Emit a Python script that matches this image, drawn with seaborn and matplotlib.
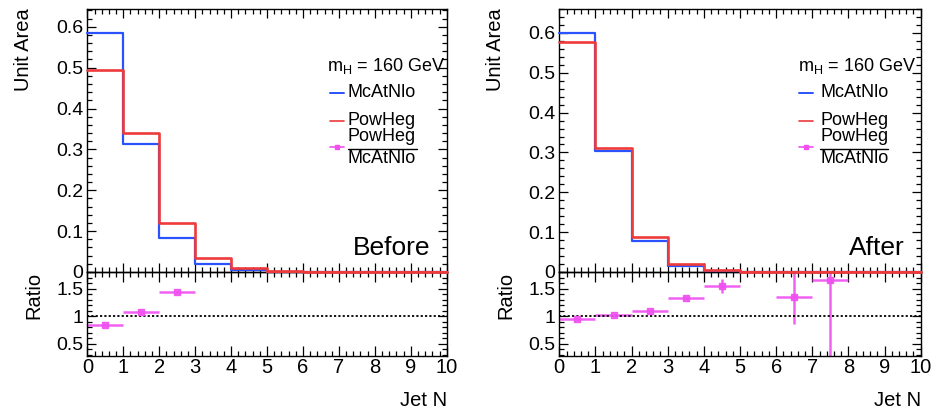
import numpy as np
import matplotlib
matplotlib.use("Agg")
import matplotlib.pyplot as plt
from matplotlib.ticker import MultipleLocator, FormatStrFormatter, FixedLocator
import seaborn as sns

# ---------------- data ----------------
bin_edges = list(range(0, 11))
bin_centers = [0.5, 1.5, 2.5, 3.5, 4.5, 5.5, 6.5, 7.5, 8.5, 9.5]

before_mcatnlo = [0.585, 0.313, 0.084, 0.019, 0.004, 0.001, 0.0, 0.0, 0.0, 0.0]
before_powheg = [0.495, 0.341, 0.120, 0.035, 0.010, 0.002, 0.0, 0.0, 0.0, 0.0]
before_ratio_x = [0.5, 1.5, 2.5]
before_ratio_y = [0.845, 1.085, 1.435]
before_ratio_err = [0.012, 0.012, 0.02]

after_mcatnlo = [0.600, 0.303, 0.079, 0.014, 0.003, 0.001, 0.0, 0.0, 0.0, 0.0]
after_powheg = [0.576, 0.312, 0.087, 0.019, 0.005, 0.001, 0.0, 0.0, 0.0, 0.0]
after_ratio_x = [0.5, 1.5, 2.5, 3.5, 4.5, 6.5, 7.5]
after_ratio_y = [0.948, 1.025, 1.097, 1.338, 1.545, 1.355, 1.655]
after_ratio_err = [0.01, 0.01, 0.015, 0.03, 0.12, 0.49, 1.5]

panel_tags = ["Before", "After"]
legend_labels = ["McAtNlo", "PowHeg"]
mass_label = "m$_{\\mathregular{H}}$ = 160 GeV"

BLUE = "#2a52ff"
RED = "#ee3a3a"
MAG = "#f050f0"

# ---------------- style ----------------
sns.set_theme(style="ticks")
plt.rcParams["font.family"] = ["Liberation Sans", "DejaVu Sans"]
plt.rcParams["mathtext.fontset"] = "custom"
plt.rcParams["mathtext.rm"] = "Liberation Sans"
plt.rcParams["axes.linewidth"] = 1.0
plt.rcParams["axes.edgecolor"] = "black"
plt.rcParams["text.color"] = "black"
plt.rcParams["axes.labelcolor"] = "black"
plt.rcParams["xtick.color"] = "black"
plt.rcParams["ytick.color"] = "black"

fig = plt.figure(figsize=(9.37, 4.15), dpi=100)

positions = [
    ([0.0932, 0.3446, 0.3836, 0.6337], [0.0932, 0.1422, 0.3836, 0.2024]),
    ([0.5969, 0.3446, 0.3857, 0.6337], [0.5969, 0.1422, 0.3857, 0.2024]),
]
datasets = [
    (before_mcatnlo, before_powheg, before_ratio_x, before_ratio_y, before_ratio_err),
    (after_mcatnlo, after_powheg, after_ratio_x, after_ratio_y, after_ratio_err),
]
legend_x = [(0.666, 0.674, 0.713, 0.7245, 0.9165), (0.661, 0.664, 0.703, 0.7214, 0.910)]


def style_ticks(ax):
    ax.tick_params(axis="both", which="both", direction="in", top=True, right=True,
                   colors="black", labelcolor="black", width=0.9)
    ax.tick_params(axis="both", which="major", length=6.3)
    ax.tick_params(axis="both", which="minor", length=3.4)
    ax.tick_params(axis="y", labelsize=14, pad=3)
    ax.tick_params(axis="x", labelsize=14.5, pad=1.5)
    for s in ax.spines.values():
        s.set_color("black")
        s.set_linewidth(1.0)


for (pos_top, pos_rat), (mc, pw, rx, ry, rerr), tag, lx in zip(positions, datasets, panel_tags, legend_x):
    axr = fig.add_axes(pos_rat)
    ax = fig.add_axes(pos_top)
    ax.patch.set_alpha(0.0)

    sns.histplot(x=bin_centers, weights=mc, bins=bin_edges, element="step", fill=False,
                 color=BLUE, linewidth=1.6, ax=ax)
    sns.histplot(x=bin_centers, weights=pw, bins=bin_edges, element="step", fill=False,
                 color=RED, linewidth=1.9, ax=ax)
    # PowHeg histogram where it sits on the zero level (drawn over the axis line)
    low = [i for i, v in enumerate(pw) if v < 0.003]
    sns.lineplot(x=[bin_edges[low[0]], bin_edges[-1]], y=[0.0, 0.0], color=RED,
                 linewidth=1.5, ax=ax)
    for ln in ax.lines:
        ln.set_clip_on(False)
        ln.set_zorder(4)
    for p in ax.patches:
        p.set_clip_on(False)
        p.set_zorder(4)

    ymax = 1.1 * max(max(mc), max(pw))
    ax.set_xlim(0, 10)
    ax.set_ylim(0, ymax)
    ax.xaxis.set_major_locator(MultipleLocator(1))
    ax.xaxis.set_minor_locator(MultipleLocator(0.2))
    ax.yaxis.set_major_locator(MultipleLocator(0.1))
    ax.yaxis.set_minor_locator(MultipleLocator(0.02))
    ax.yaxis.set_major_formatter(FormatStrFormatter("%g"))
    style_ticks(ax)
    ax.tick_params(labelbottom=False)
    ax.set_xlabel("")
    ax.set_ylabel("Unit Area", fontsize=14.5, loc="top", color="black")
    ax.yaxis.set_label_coords(-0.150, 1.004)

    # tag
    ax.text(0.955, 0.065, tag, transform=ax.transAxes, ha="right", va="baseline",
            fontsize=19, color="black")

    # legend (manual, ROOT style)
    tx0, lx0, lx1, tx1, fx1 = lx
    ax.text(tx0, 0.783, mass_label, transform=ax.transAxes, ha="left", va="center",
            fontsize=13, color="black")
    ax.plot([lx0, lx1], [0.681, 0.681], transform=ax.transAxes, color=BLUE, lw=1.4)
    ax.text(tx1, 0.681, legend_labels[0], transform=ax.transAxes, ha="left", va="center",
            fontsize=13, color="black")
    ax.plot([lx0, lx1], [0.575, 0.575], transform=ax.transAxes, color=RED, lw=1.2)
    ax.text(tx1, 0.575, legend_labels[1], transform=ax.transAxes, ha="left", va="center",
            fontsize=13, color="black")
    ax.plot([lx0, lx1], [0.474, 0.474], transform=ax.transAxes, color=MAG, lw=1.2)
    ax.plot([(lx0 + lx1) / 2], [0.474], transform=ax.transAxes, color=MAG, marker="s",
            markersize=3.5, lw=0)
    ax.text(tx1, 0.514, legend_labels[1], transform=ax.transAxes, ha="left", va="center",
            fontsize=13, color="black")
    ax.plot([tx1, fx1], [0.468, 0.468], transform=ax.transAxes, color="black", lw=1.0)
    ax.text(tx1, 0.431, legend_labels[0], transform=ax.transAxes, ha="left", va="center",
            fontsize=13, color="black")

    # ratio panel
    axr.errorbar(rx, ry, xerr=0.5, yerr=rerr, fmt="s", color=MAG, ecolor=MAG,
                 elinewidth=1.8, markersize=4, capsize=0, alpha=0.9)
    axr.axhline(1.0, color="black", ls=(0, (1.2, 1.2)), lw=1.3)
    axr.set_xlim(0, 10)
    axr.set_ylim(0.28, 1.8)
    axr.xaxis.set_major_locator(MultipleLocator(1))
    axr.xaxis.set_minor_locator(MultipleLocator(0.2))
    axr.yaxis.set_major_locator(FixedLocator([0.5, 1.0, 1.5]))
    axr.yaxis.set_minor_locator(MultipleLocator(0.1))
    axr.yaxis.set_major_formatter(FormatStrFormatter("%g"))
    style_ticks(axr)
    axr.tick_params(axis="x", which="major", length=7.0)
    axr.tick_params(axis="x", which="minor", length=3.6)
    axr.set_ylabel("Ratio", fontsize=14.5, loc="top", color="black")
    axr.yaxis.set_label_coords(-0.122, 1.0)
    axr.set_xlabel("Jet N", fontsize=14.5, loc="right", color="black")
    axr.xaxis.set_label_coords(1.0, -0.42)

fig.savefig("out.png", dpi=100)
